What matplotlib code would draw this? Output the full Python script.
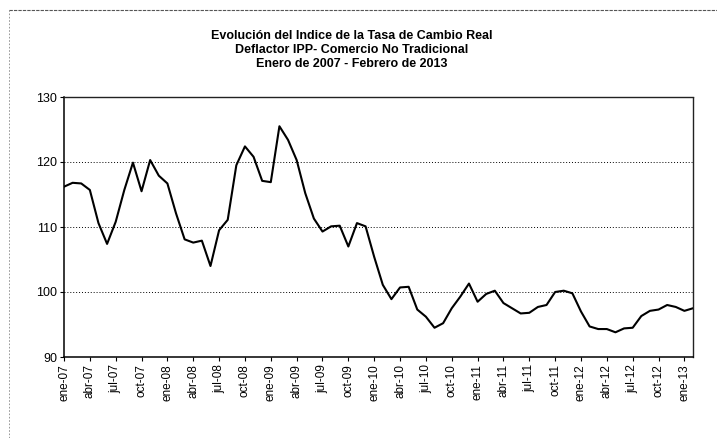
import matplotlib
matplotlib.use('Agg')
import matplotlib.pyplot as plt
from matplotlib.lines import Line2D
import numpy as np

plt.rcParams['font.family'] = ['Liberation Sans', 'DejaVu Sans']

# Indice TCR, deflactor IPP, comercio no tradicional (ene-07 .. feb-13)
months = ["ene", "feb", "mar", "abr", "may", "jun",
          "jul", "ago", "sep", "oct", "nov", "dic"]
years = [7, 8, 9, 10, 11, 12, 13]
tcr = [
    116.2, 116.8, 116.7, 115.7, 110.6, 107.4, 110.8, 115.7, 119.9, 115.5, 120.3, 117.9,
    116.7, 112.1, 108.1, 107.6, 107.9, 104.0, 109.5, 111.1, 119.5, 122.4, 120.8, 117.1,
    116.9, 125.5, 123.4, 120.3, 115.2, 111.3, 109.3, 110.1, 110.2, 107.0, 110.6, 110.1,
    105.4, 101.1, 98.9, 100.7, 100.8, 97.3, 96.2, 94.5, 95.2, 97.5, 99.3, 101.3,
    98.5, 99.7, 100.2, 98.3, 97.5, 96.7, 96.8, 97.7, 98.0, 100.0, 100.2, 99.8,
    97.0, 94.7, 94.3, 94.3, 93.8, 94.4, 94.5, 96.3, 97.1, 97.3, 98.0, 97.7,
    97.1, 97.5,
]
labels = ["%s-%02d" % (m, y) for y in years for m in months][:len(tcr)]
y_ticks = [90, 100, 110, 120, 130]

W, H = 717, 438
fig = plt.figure(figsize=(W / 100, H / 100), dpi=100)
ax = fig.add_axes([64 / W, 1 - 357 / H, (693 - 64) / W, (357 - 97) / H])

x = np.arange(len(tcr))
ax.plot(x, tcr, color='black', linewidth=1.5)

ax.set_xlim(0, len(tcr) - 1)
ax.set_ylim(90, 130)
ax.set_yticks(y_ticks)
ax.set_yticklabels([str(v) for v in y_ticks], fontsize=9)
ax.set_xticks(x[::3])
ax.set_xticklabels(labels[::3], rotation=90, fontsize=8.5)
ax.tick_params(axis='both', direction='out', length=3, width=0.8, pad=2)

for v in y_ticks[1:-1]:
    ax.axhline(v, color='black', linestyle=(0, (1, 2)), linewidth=0.7)

ax.spines['left'].set_linewidth(1.1)
ax.spines['bottom'].set_linewidth(1.1)
for s in ('top', 'right'):
    ax.spines[s].set_linestyle((0, (1, 1)))
    ax.spines[s].set_linewidth(1.0)
    ax.spines[s].set_color('#222222')

fig.text(0.5 * (212 + 492) / W, 1 - 30 / H,
         "Evolución del Indice de la Tasa de Cambio Real\n"
         "Deflactor IPP- Comercio No Tradicional\n"
         "Enero de 2007 - Febrero de 2013",
         ha='center', va='top', fontsize=9, fontweight='bold', linespacing=1.2)

# outer chart frame (only top and left edges are visible)
fig.add_artist(Line2D([9 / W, 9 / W], [0, 1 - 10 / H], color='#888888',
                      linestyle=(0, (2, 2)), linewidth=0.6))
fig.add_artist(Line2D([9 / W, 1], [1 - 10 / H, 1 - 10 / H], color='#555555',
                      linestyle=(0, (3, 1)), linewidth=0.8))

fig.savefig('out.png', dpi=100)
